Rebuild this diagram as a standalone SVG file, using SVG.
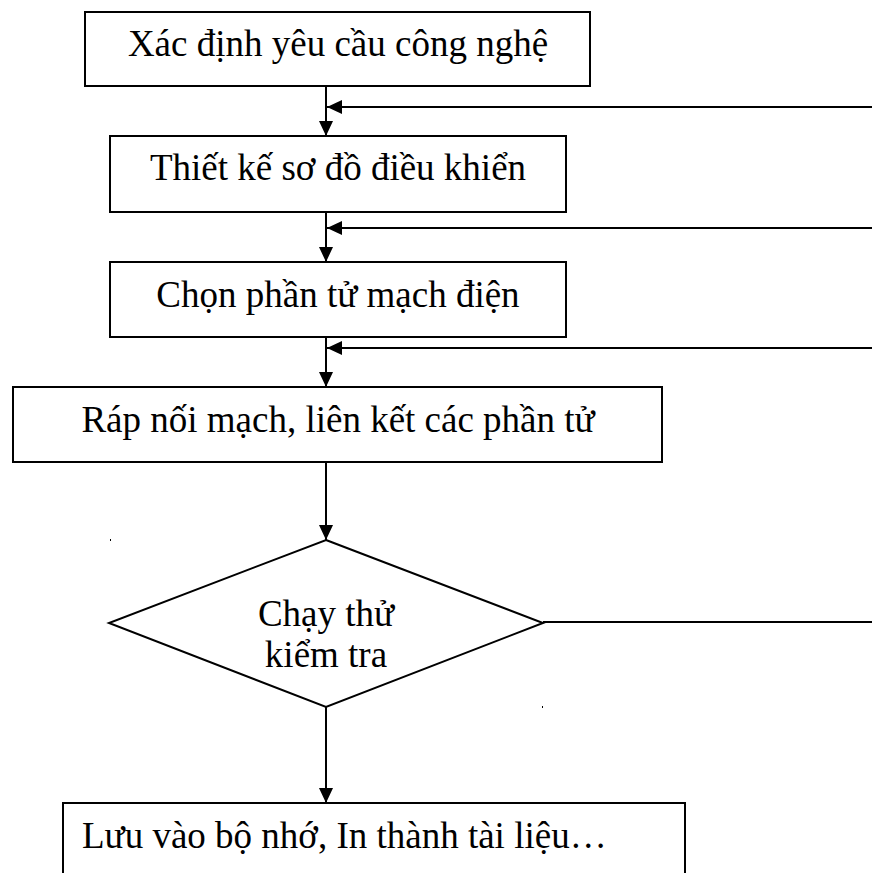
<svg xmlns="http://www.w3.org/2000/svg" width="872" height="873" viewBox="0 0 872 873">
  <style>
    .box { fill: #fff; stroke: #000; stroke-width: 2; }
    .lbl { font-family: "Liberation Serif", "Times New Roman", serif; font-size: 37px; fill: #000; }
    .c { text-anchor: middle; }
    .conn { fill: none; stroke: #000; stroke-width: 2; }
  </style>
  <defs>
    <marker id="arr" markerUnits="userSpaceOnUse" markerWidth="15" markerHeight="14" refX="15" refY="7" orient="auto">
      <path d="M0,0 L15,7 L0,14 Z" fill="#000"/>
    </marker>
  </defs>
  <rect x="0" y="0" width="872" height="873" fill="#fff"/>

  <g id="connectors">
    <line class="conn" x1="326" y1="86" x2="326" y2="136" marker-end="url(#arr)"/>
    <line class="conn" x1="872" y1="107" x2="327" y2="107" marker-end="url(#arr)"/>
    <line class="conn" x1="326" y1="212" x2="326" y2="262" marker-end="url(#arr)"/>
    <line class="conn" x1="872" y1="228" x2="327" y2="228" marker-end="url(#arr)"/>
    <line class="conn" x1="326" y1="337" x2="326" y2="387" marker-end="url(#arr)"/>
    <line class="conn" x1="872" y1="348" x2="327" y2="348" marker-end="url(#arr)"/>
    <line class="conn" x1="326" y1="462" x2="326" y2="540" marker-end="url(#arr)"/>
    <line class="conn" x1="326" y1="707" x2="326" y2="803" marker-end="url(#arr)"/>
    <line class="conn" x1="543" y1="622" x2="872" y2="622"/>
  </g>

  <g id="node-xac-dinh">
    <rect class="box" x="85" y="12" width="505" height="74"/>
    <text class="lbl c" x="338" y="56">Xác định yêu cầu công nghệ</text>
  </g>
  <g id="node-thiet-ke">
    <rect class="box" x="110" y="136" width="456" height="76"/>
    <text class="lbl c" x="338" y="180">Thiết kế sơ đồ điều khiển</text>
  </g>
  <g id="node-chon">
    <rect class="box" x="110" y="262" width="456" height="75"/>
    <text class="lbl c" x="338" y="307">Chọn phần tử mạch điện</text>
  </g>
  <g id="node-rap-noi">
    <rect class="box" x="13" y="387" width="649" height="75"/>
    <text class="lbl c" x="338" y="432">Ráp nối mạch, liên kết các phần tử</text>
  </g>
  <g id="node-chay-thu">
    <polygon class="box" points="326,540 543,623 326,707 109,623"/>
    <text class="lbl c" x="326" y="626">Chạy thử</text>
    <text class="lbl c" x="326" y="667">kiểm tra</text>
  </g>
  <g id="node-luu">
    <rect class="box" x="63" y="803" width="622" height="80"/>
    <text class="lbl" x="82" y="848">Lưu vào bộ nhớ, In thành tài liệu…</text>
  </g>
  <g id="specks" fill="#000">
    <rect x="110" y="539" width="1" height="2"/>
    <rect x="542" y="706" width="1" height="2"/>
  </g>
</svg>
